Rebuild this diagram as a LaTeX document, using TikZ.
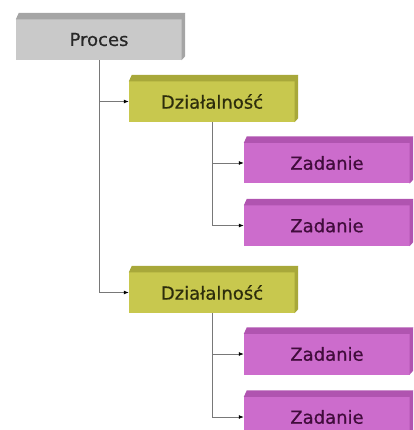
\documentclass[tikz,border=0pt]{standalone}
\usepackage{fontspec}
\setmainfont{DejaVu Sans}
\newfontfamily\boxfont[FakeBold=0.6]{DejaVu Sans}
\usetikzlibrary{arrows.meta}
\definecolor{grayF}{RGB}{201,201,201}
\definecolor{grayT}{RGB}{165,165,165}
\definecolor{grayTx}{RGB}{40,40,40}
\definecolor{yelF}{RGB}{200,200,78}
\definecolor{yelT}{RGB}{168,168,58}
\definecolor{yelTx}{RGB}{45,45,12}
\definecolor{magF}{RGB}{204,108,204}
\definecolor{magT}{RGB}{176,84,176}
\definecolor{magTx}{RGB}{65,12,60}
\definecolor{lineC}{RGB}{120,120,120}
\tikzset{
  boxbase/.style={rectangle, minimum width=166pt, minimum height=41pt, inner sep=0pt, font=\boxfont\fontsize{18}{20}\selectfont},
  procbox/.style={boxbase, fill=grayF, text=grayTx},
  actbox/.style={boxbase, fill=yelF, text=yelTx},
  taskbox/.style={boxbase, fill=magF, text=magTx},
  conn/.style={draw=lineC, line width=0.8pt, -{Latex[length=5pt,width=4pt,color=black]}}
}
\newcommand{\bevel}[2]{%
  \fill[#2] ([yshift=-0.6pt]#1.north west) -- ++(3,-6.6) -- ([xshift=3pt,yshift=6pt]#1.north east) -- ([xshift=0.6pt,yshift=-0.6pt]#1.north east) -- cycle;
  \fill[#2] ([xshift=-0.6pt]#1.north east) -- ++(3.6,-6) -- ([xshift=3pt,yshift=4pt]#1.south east) -- ([xshift=-0.6pt]#1.south east) -- cycle;
}
\begin{document}
\begin{tikzpicture}[x=1pt,y=-1pt]
\useasboundingbox (0,0) rectangle (413,430);
\node[procbox] (P) at (99,39.5) {Proces};
\node[actbox] (D1) at (212,101.5) {Działalność};
\node[taskbox] (Z1) at (327,163) {Zadanie};
\node[taskbox] (Z2) at (327,225.5) {Zadanie};
\node[actbox] (D2) at (212,292.5) {Działalność};
\node[taskbox] (Z3) at (327,354) {Zadanie};
\node[taskbox] (Z4) at (327,417) {Zadanie};
\begin{scope}[on background layer/.style={}]
\bevel{P}{grayT}
\bevel{D1}{yelT}
\bevel{D2}{yelT}
\bevel{Z1}{magT}
\bevel{Z2}{magT}
\bevel{Z3}{magT}
\bevel{Z4}{magT}
\end{scope}
\draw[conn] (P.south) |- (D1.west);
\draw[conn] (P.south) |- (D2.west);
\draw[conn] (D1.south) |- (Z1.west);
\draw[conn] (D1.south) |- (Z2.west);
\draw[conn] (D2.south) |- (Z3.west);
\draw[conn] (D2.south) |- (Z4.west);
\end{tikzpicture}
\end{document}
